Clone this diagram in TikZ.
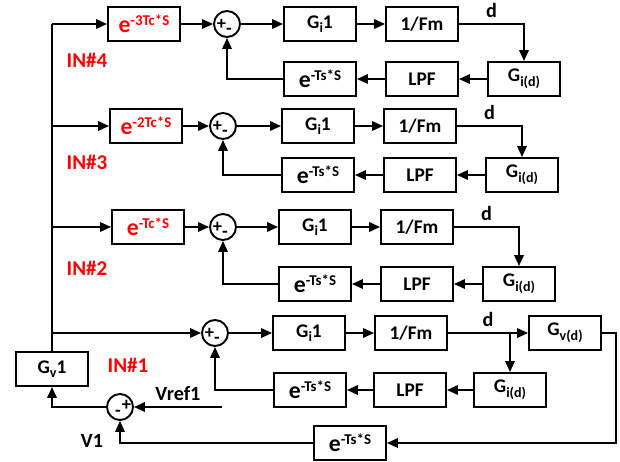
\documentclass[tikz,border=0pt]{standalone}
\usepackage{fontspec}
\setmainfont{Carlito}
\usetikzlibrary{arrows.meta,positioning,calc}
\tikzset{
  >={Triangle[length=2.2mm,width=1.9mm]},
  blk/.style={draw, line width=1.1pt, minimum width=1.44cm, minimum height=0.68cm, inner sep=1pt, font=\fontsize{11}{11}\selectfont\bfseries},
  dly/.style={blk, text=red},
  sig/.style={font=\fontsize{10.5}{10.5}\selectfont\bfseries, inner sep=0pt},
  sumc/.style={draw, circle, line width=1.1pt, minimum size=0.52cm, inner sep=0pt,
    label={[sig, xshift=-0.11cm]center:+}, label={[sig, xshift=0.04cm, yshift=-0.15cm]center:-}},
  sumr/.style={draw, circle, line width=1.1pt, minimum size=0.52cm, inner sep=0pt,
    label={[sig, xshift=0.13cm, yshift=0.03cm]center:+}, label={[sig, xshift=-0.04cm, yshift=-0.13cm]center:-}},
  lbl/.style={font=\fontsize{12}{12}\selectfont\bfseries, text=red},
  txt/.style={font=\fontsize{11.5}{11.5}\selectfont\bfseries},
  flow/.style={->, line width=1.1pt},
}
\newcommand{\upx}[1]{\raisebox{0.75ex}{\fontsize{8.5}{8.5}\selectfont #1}}
\newcommand{\dnx}[1]{\raisebox{-0.5ex}{\fontsize{8}{8}\selectfont #1}}
\newcommand{\ebox}[1]{{\fontsize{13.5}{13.5}\selectfont e}\upx{#1}}

\begin{document}
\begin{tikzpicture}[x=0.02cm, y=-0.02cm]
  \useasboundingbox (0,0) rectangle (620,461);
  % voltage loop and IN#1
  \node[blk] (gv1) at (52,369) {G\dnx{v}1};
  \node[sumc] (sum1) at (215,333) {};
  \node[blk] (gi1) at (309,333) {G\dnx{i}1};
  \node[blk] (fm1) at (411,333) {1/Fm};
  \node[blk] (gvd) at (565,333) {G\dnx{v(d)}};
  \node[blk] (gid1) at (510,390) {G\dnx{i(d)}};
  \node[blk] (lpf1) at (410,390) {LPF};
  \node[blk] (dts1) at (310,390) {\ebox{-Ts*S}};
  \node[blk] (dtsv) at (350,443) {\ebox{-Ts*S}};
  \node[sumr] (sumv) at (120,407) {};
  \coordinate (vref) at (222,407);
  \node[lbl] (in1) at (128,365) {IN\#1};
  \node[txt] (v1) at (92,441) {V1};
  \draw[flow] (gv1.north) |- (sum1.west);
  \draw[flow] (sum1) -- (gi1);
  \draw[flow] (gi1) -- (fm1);
  \draw[flow] (fm1) -- node[txt, above, pos=0.5]{d} (gvd);
  \draw[flow] (gid1.north |- fm1.east) -- (gid1.north);
  \draw[flow] (gid1) -- (lpf1);
  \draw[flow] (lpf1) -- (dts1);
  \draw[flow] (dts1.west) -| (sum1.south);
  \draw[flow] (gvd.east) -- ++(14,0) |- (dtsv.east);
  \draw[flow] (dtsv.west) -| (sumv.south);
  \draw[flow] (vref) -- node[txt, above]{Vref1} (sumv.east);
  \draw[flow] (sumv.west) -| (gv1.south);
  % current loops IN#2 .. IN#4
  \foreach \r/\yy/\fy/\dx/\cx/\s/\tc/\iy in {4/24/79/144/227/0/-3Tc*S/60, 3/126/175/146/223/-2/-2Tc*S/162, 2/227/284/148/223/-5/-Tc*S/268} {
    \node[dly] (dly\r) at (\dx,\yy) {\ebox{\tc}};
    \node[sumc] (sum\r) at (\cx,\yy) {};
    \node[blk] (gi\r) at (320+\s,\yy) {G\dnx{i}1};
    \node[blk] (fm\r) at (422+\s,\yy) {1/Fm};
    \node[blk] (gid\r) at (524+\s,\fy) {G\dnx{i(d)}};
    \node[blk] (lpf\r) at (422+\s,\fy) {LPF};
    \node[blk] (dts\r) at (320+\s,\fy) {\ebox{-Ts*S}};
    \node[lbl] (in\r) at (87,\iy) {IN\#\r};
    \draw[flow] (gv1.north |- dly\r.west) -- (dly\r.west);
    \draw[flow] (dly\r) -- (sum\r);
    \draw[flow] (sum\r) -- (gi\r);
    \draw[flow] (gi\r) -- (fm\r);
    \draw[flow] (fm\r.east) -| node[txt, above, pos=0.25]{d} (gid\r.north);
    \draw[flow] (gid\r) -- (lpf\r);
    \draw[flow] (lpf\r) -- (dts\r);
    \draw[flow] (dts\r.west) -| (sum\r.south);
  }
  \draw[line width=1.1pt] (gv1.north) -- (gv1.north |- dly4.west);
\end{tikzpicture}
\end{document}
